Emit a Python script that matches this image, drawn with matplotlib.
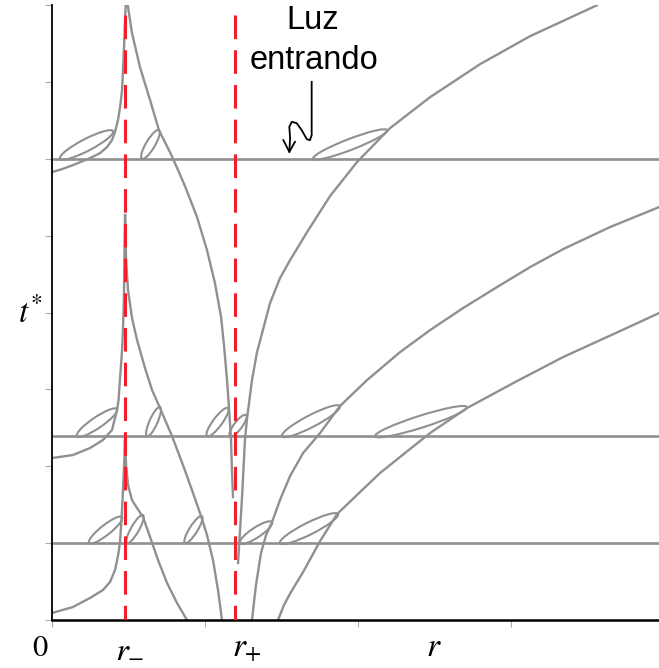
import math
import matplotlib
matplotlib.use("Agg")
import matplotlib.pyplot as plt
from matplotlib.patches import Ellipse
from matplotlib.transforms import IdentityTransform

plt.rcParams['mathtext.fontset'] = 'stix'
plt.rcParams['lines.scale_dashes'] = False

# ---------------- data (r in axis units, t* in axis units) ----------------
r_minus = 0.477
r_plus = 1.196

# ingoing light rays (t* = const)
t_lines = [6.0, 2.39, 1.0]

# outgoing rays, r < r_-
L1_r = [0, 0.065, 0.137, 0.248, 0.314, 0.359, 0.392, 0.412, 0.431, 0.444, 0.458, 0.467, 0.474, 0.480, 0.484]
L1_t = [5.826, 5.865, 5.917, 6.008, 6.073, 6.151, 6.242, 6.346, 6.502, 6.658, 6.892, 7.282, 7.607, 7.932, 8.088]
L2_r = [0, 0.137, 0.248, 0.333, 0.392, 0.425, 0.435, 0.444, 0.458, 0.464, 0.471, 0.474, 0.477]
L2_t = [2.107, 2.146, 2.237, 2.341, 2.471, 2.731, 2.861, 3.121, 3.511, 3.771, 4.291, 4.811, 5.267]
L3_r = [0, 0.137, 0.248, 0.333, 0.379, 0.412, 0.431, 0.444, 0.454, 0.461, 0.467, 0.474, 0.477]
L3_t = [0.091, 0.169, 0.286, 0.390, 0.494, 0.650, 0.832, 1.001, 1.300, 1.560, 1.821, 2.146, 2.406]

# outgoing rays, r_- < r < r_+
A_r = [0.490, 0.523, 0.575, 0.641, 0.699, 0.771, 0.824, 0.869, 0.948, 1.013, 1.065, 1.105, 1.124, 1.144, 1.157, 1.170, 1.176, 1.183]
A_t = [8.062, 7.633, 7.191, 6.762, 6.372, 6.086, 5.852, 5.644, 5.241, 4.811, 4.382, 3.940, 3.576, 3.121, 2.757, 2.341, 1.951, 1.599]
B_r = [0.479, 0.484, 0.497, 0.523, 0.556, 0.608, 0.654, 0.706, 0.784, 0.856, 0.915, 0.974, 1.013, 1.052, 1.085, 1.111]
B_t = [5.267, 4.681, 4.291, 3.927, 3.641, 3.277, 2.991, 2.757, 2.393, 2.016, 1.690, 1.352, 1.105, 0.780, 0.390, 0.0]
C_r = [0.479, 0.484, 0.497, 0.523, 0.556, 0.595, 0.641, 0.693, 0.752, 0.817, 0.882]
C_t = [2.341, 2.016, 1.755, 1.560, 1.456, 1.339, 1.079, 0.780, 0.481, 0.221, 0.0]

# outgoing rays, r > r_+
D_r = [1.216, 1.229, 1.242, 1.261, 1.275, 1.307, 1.340, 1.373, 1.425, 1.490, 1.556, 1.667, 1.817, 1.993, 2.209, 2.471, 2.797, 3.124, 3.562]
D_t = [0.741, 1.170, 1.599, 2.341, 2.627, 3.121, 3.485, 3.732, 4.122, 4.447, 4.681, 5.046, 5.514, 5.956, 6.398, 6.801, 7.230, 7.594, 7.997]
E_r = [1.307, 1.333, 1.366, 1.399, 1.438, 1.490, 1.556, 1.641, 1.752, 1.882, 2.059, 2.275, 2.471, 2.686, 2.908, 3.124, 3.340, 3.647, 3.967]
E_t = [0.0, 0.455, 0.871, 1.105, 1.274, 1.560, 1.873, 2.172, 2.432, 2.783, 3.121, 3.485, 3.771, 4.057, 4.330, 4.590, 4.824, 5.111, 5.371]
F_r = [1.477, 1.516, 1.562, 1.641, 1.752, 1.863, 2.013, 2.144, 2.307, 2.471, 2.712, 3.039, 3.340, 3.712, 3.967]
F_t = [0.0, 0.195, 0.364, 0.624, 1.027, 1.378, 1.664, 1.912, 2.172, 2.432, 2.757, 3.108, 3.420, 3.758, 3.992]

# light cones: tip on ingoing line -> tip on outgoing ray
cone_r0 = [0.052, 0.588, 1.706, 0.163, 0.621, 1.013, 1.163, 1.503, 2.111, 0.242, 0.490, 0.869, 1.229, 1.490]
cone_t0 = [6.0, 6.0, 6.0, 2.39, 2.39, 2.39, 2.39, 2.39, 2.39, 1.0, 1.0, 1.0, 1.0, 1.0]
cone_r1 = [0.399, 0.699, 2.190, 0.425, 0.706, 1.150, 1.268, 1.882, 2.712, 0.458, 0.595, 0.980, 1.438, 1.869]
cone_t1 = [6.359, 6.372, 6.372, 2.744, 2.770, 2.757, 2.666, 2.783, 2.770, 1.339, 1.365, 1.352, 1.274, 1.378]

# annotation arrow ("Luz entrando")
arrow_r = [1.697, 1.697, 1.686, 1.665, 1.632, 1.599, 1.567, 1.551, 1.556, 1.551]
arrow_t = [7.000, 6.307, 6.242, 6.255, 6.372, 6.463, 6.480, 6.415, 6.268, 6.090]
head_r = [1.512, 1.551, 1.588]
head_t = [6.242, 6.090, 6.220]

# ---------------- styles ----------------
cone_w_px = [12, 9, 11, 11, 8, 9, 8, 12, 12, 10, 8, 8, 10, 12]
GRAY = '#909090'
RED = '#f0202a'

fig = plt.figure(figsize=(6.59, 6.68), dpi=100)
ax = fig.add_axes([52/659, 48/668, 607/659, 615/668])
ax.set_xlim(0, 3.967)
ax.set_ylim(0, 8.0)

for s in ['top', 'right']:
    ax.spines[s].set_visible(False)
ax.spines['left'].set_linewidth(1.3)
ax.spines['bottom'].set_linewidth(1.8)
ax.spines['left'].set_color('black')
ax.spines['bottom'].set_color('black')
ax.set_xticks([0, 1, 2, 3])
ax.set_yticks(range(0, 9))
ax.tick_params(axis='both', direction='out', length=5, width=0.8, color='#aaaaaa',
               labelleft=False, labelbottom=False)

lw = 1.7
for t in t_lines:
    ax.plot([0, 3.967], [t, t], color=GRAY, lw=1.9, zorder=2, solid_capstyle='butt')

for rr, tt in [(L1_r, L1_t), (L2_r, L2_t), (L3_r, L3_t), (A_r, A_t), (B_r, B_t), (C_r, C_t),
               (D_r, D_t), (E_r, E_t), (F_r, F_t)]:
    ax.plot(rr, tt, color=GRAY, lw=lw, zorder=2, solid_joinstyle='round')

# light cones drawn as thin ellipses between the two tips (in display space)
for r0, t0, r1, t1, w in zip(cone_r0, cone_t0, cone_r1, cone_t1, cone_w_px):
    p0 = ax.transData.transform((r0, t0))
    p1 = ax.transData.transform((r1, t1))
    cx, cy = (p0 + p1) / 2
    L = math.hypot(p1[0] - p0[0], p1[1] - p0[1])
    ang = math.degrees(math.atan2(p1[1] - p0[1], p1[0] - p0[0]))
    e = Ellipse((cx, cy), L, w, angle=ang, transform=IdentityTransform(),
                fill=False, edgecolor=GRAY, lw=1.5, zorder=2)
    ax.add_artist(e)

# horizons
for rh in [r_minus, r_plus]:
    ax.plot([rh, rh], [7.87, 0], color=RED, lw=2.2, dashes=(17, 8), zorder=4)

# annotation
ax.plot(arrow_r, arrow_t, color='black', lw=1.3, zorder=5, clip_on=False)
ax.plot(head_r, head_t, color='black', lw=1.3, zorder=5, clip_on=False)
ax.text(1.706, 7.80, 'Luz', fontsize=23.5, family='Liberation Sans', ha='center', va='center')
ax.text(1.712, 7.28, 'entrando', fontsize=23.5, family='Liberation Sans', ha='center', va='center')

# axis labels
lab = dict(ha='center', va='center', clip_on=False)
ax.text(-0.078, -0.36, r'$0$', fontsize=22, **lab)
ax.text(0.510, -0.36, r'$r_{-}$', fontsize=24, **lab)
ax.text(1.275, -0.36, r'$r_{+}$', fontsize=24, **lab)
ax.text(2.497, -0.34, r'$r$', fontsize=24, **lab)
ax.text(-0.144, 3.99, r'$t^{*}$', fontsize=24, **lab)

fig.savefig('out.png', dpi=100)
